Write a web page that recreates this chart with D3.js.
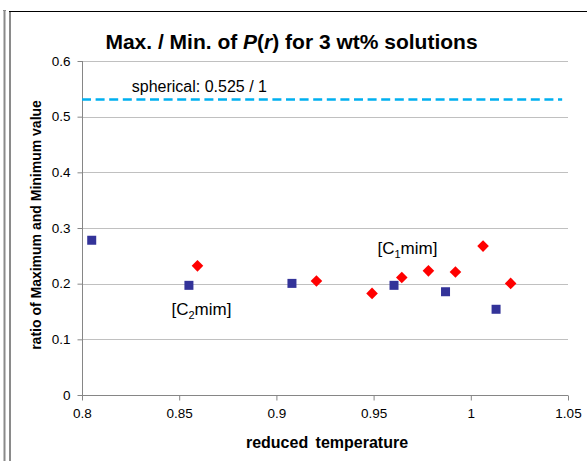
<!DOCTYPE html>
<html>
<head>
<meta charset="utf-8">
<script src="https://cdn.jsdelivr.net/npm/d3@7"></script>
<style>
  body { margin: 0; background: #fff; }
  text { font-family: Arial, "Liberation Sans", sans-serif; }
</style>
</head>
<body>
<script>
var W = 587, H = 461;
var margin = {top: 61, right: 19, bottom: 66, left: 82}
  , width = W - margin.left - margin.right
  , height = H - margin.top - margin.bottom;

// [C2mim] series (blue squares)
var c2_temp  = [0.805, 0.855, 0.908, 0.9605, 0.987, 1.013];
var c2_ratio = [0.278, 0.197, 0.2005, 0.197, 0.1855, 0.154];
// [C1mim] series (red diamonds)
var c1_temp  = [0.8594, 0.9206, 0.9492, 0.9645, 0.9782, 0.9921, 1.0063, 1.0205];
var c1_ratio = [0.232, 0.2047, 0.1825, 0.211, 0.223, 0.221, 0.2675, 0.2005];
// spherical reference value
var spherical = 0.531;

var xTicks = [0.8, 0.85, 0.9, 0.95, 1, 1.05];
var yTicks = [0, 0.1, 0.2, 0.3, 0.4, 0.5, 0.6];

var svg = d3.select("body").append("svg")
    .attr("width", W)
    .attr("height", H);

// outer frame
svg.append("line").attr("x1", 4.5).attr("x2", 4.5).attr("y1", 10).attr("y2", H)
    .attr("stroke", "#8a8a8a").attr("stroke-width", 2);
svg.append("line").attr("x1", 3).attr("x2", 6).attr("y1", 10.5).attr("y2", 10.5)
    .attr("stroke", "#8a8a8a").attr("stroke-width", 1);
svg.append("line").attr("x1", 10).attr("x2", 10).attr("y1", 11).attr("y2", H)
    .attr("stroke", "#8a8a8a").attr("stroke-width", 2);
svg.append("line").attr("x1", 9).attr("x2", W).attr("y1", 11.5).attr("y2", 11.5)
    .attr("stroke", "#000").attr("stroke-width", 1);

var g = svg.append("g")
    .attr("transform", "translate(" + margin.left + "," + margin.top + ")");

var xScale = d3.scaleLinear().domain([0.8, 1.05]).range([0, width]);
var yScale = d3.scaleLinear().domain([0, 0.6]).range([height, 0]);

// gridlines
g.selectAll(".grid")
    .data(yTicks.slice(1))
    .enter().append("line")
    .attr("x1", 0).attr("x2", width)
    .attr("y1", function(d) { return Math.round(yScale(d)) + 0.5; })
    .attr("y2", function(d) { return Math.round(yScale(d)) + 0.5; })
    .attr("stroke", "#c0c0c0");

// axes
var xAxis = g.append("g")
    .attr("transform", "translate(0," + (height + 0.5) + ")")
    .call(d3.axisBottom(xScale).tickValues(xTicks).tickSize(5).tickPadding(8)
        .tickFormat(function(d) { return d3.format("")(+d.toFixed(2)); }));
var yAxis = g.append("g")
    .attr("transform", "translate(0.5,0)")
    .call(d3.axisLeft(yScale).tickValues(yTicks).tickSize(5).tickPadding(7)
        .tickFormat(function(d) { return d3.format("")(+d.toFixed(1)); }));

[xAxis, yAxis].forEach(function(a) {
  a.select(".domain").attr("stroke", "#868686");
  a.selectAll(".tick line").attr("stroke", "#868686");
  a.selectAll(".tick text")
    .attr("fill", "#000")
    .style("font-size", "13.5px")
    .style("font-family", "Arial, 'Liberation Sans', sans-serif");
});
xAxis.select(".domain").attr("d", "M0,0H" + width);
yAxis.select(".domain").attr("d", "M0,0V" + height);

// spherical dashed line
g.append("line")
    .attr("x1", 0).attr("x2", xScale(1.047))
    .attr("y1", yScale(spherical)).attr("y2", yScale(spherical))
    .attr("stroke", "#00b0f0").attr("stroke-width", 2.5)
    .attr("stroke-dasharray", "9,4.6");

g.append("text")
    .attr("x", xScale(0.8256)).attr("y", yScale(spherical) - 7)
    .style("font-size", "16px")
    .text("spherical: 0.525 / 1");

// C2mim squares
var c2 = c2_temp.map(function(t, i) { return {t: t, r: c2_ratio[i]}; });
g.selectAll(".sq")
    .data(c2)
    .enter().append("rect")
    .attr("x", function(d) { return xScale(d.t) - 4.5; })
    .attr("y", function(d) { return yScale(d.r) - 4.5; })
    .attr("width", 9).attr("height", 9)
    .attr("fill", "#333399");

// C1mim diamonds
var c1 = c1_temp.map(function(t, i) { return {t: t, r: c1_ratio[i]}; });
g.selectAll(".dm")
    .data(c1)
    .enter().append("path")
    .attr("transform", function(d) { return "translate(" + xScale(d.t) + "," + yScale(d.r) + ")"; })
    .attr("d", "M0,-5.8L5.8,0L0,5.8L-5.8,0Z")
    .attr("fill", "#ff0000");

// series labels
function seriesLabel(x, y, sub) {
  var t = g.append("text")
      .attr("x", xScale(x)).attr("y", yScale(y))
      .style("font-size", "17px");
  t.append("tspan").text("[C");
  t.append("tspan").attr("dy", 4).style("font-size", "11px").text(sub);
  t.append("tspan").attr("dy", -4).text("mim]");
}
seriesLabel(0.846, 0.1436, "2");
seriesLabel(0.952, 0.253, "1");

// title
var title = svg.append("text")
    .attr("x", 291.5).attr("y", 49)
    .attr("text-anchor", "middle")
    .style("font-size", "21px")
    .style("font-weight", "bold");
title.append("tspan").text("Max. / Min. of ");
title.append("tspan").style("font-style", "italic").text("P");
title.append("tspan").text("(");
title.append("tspan").style("font-style", "italic").text("r");
title.append("tspan").text(") for 3 wt% solutions");

// axis titles
svg.append("text")
    .attr("text-anchor", "middle")
    .attr("x", 327).attr("y", 448)
    .style("font-size", "16px")
    .style("font-weight", "bold")
    .style("word-spacing", "3px")
    .text("reduced temperature");

svg.append("text")
    .attr("text-anchor", "middle")
    .attr("transform", "translate(41," + (margin.top + height / 2 - 3) + ")rotate(-90)")
    .style("font-size", "14px")
    .style("font-weight", "bold")
    .text("ratio of Maximum and Minimum value");
</script>
</body>
</html>
